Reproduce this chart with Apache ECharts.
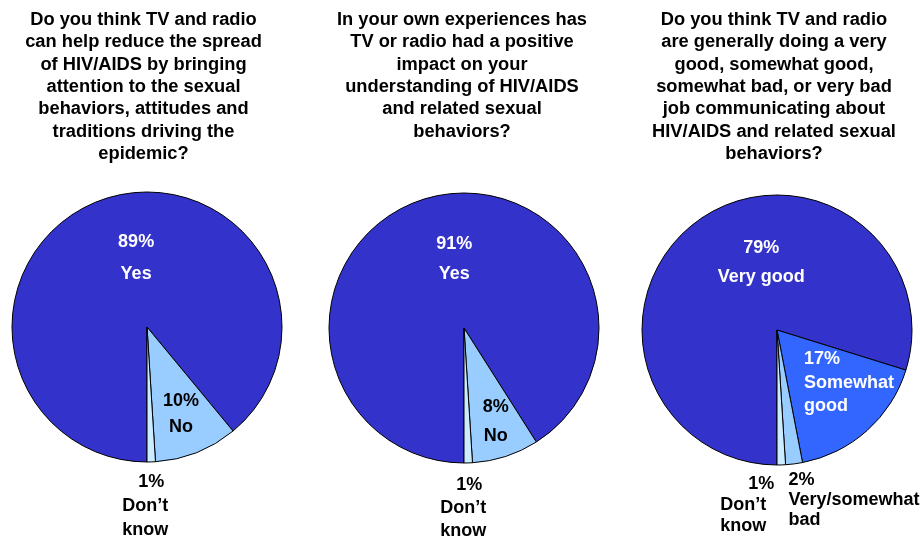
<!DOCTYPE html>
<html>
<head>
<meta charset="utf-8">
<script src="https://cdn.jsdelivr.net/npm/echarts@6/dist/echarts.min.js"></script>
<style>
  html, body { margin: 0; padding: 0; background: #fff; }
  #chart { width: 924px; height: 537px; }
</style>
</head>
<body>
<div id="chart"></div>
<script>
// Survey questions
const questions = [
  'Do you think TV and radio\ncan help reduce the spread\nof HIV/AIDS by bringing\nattention to the sexual\nbehaviors, attitudes and\ntraditions driving the\nepidemic?',
  'In your own experiences has\nTV or radio had a positive\nimpact on your\nunderstanding of HIV/AIDS\nand related sexual\nbehaviors?',
  'Do you think TV and radio\nare generally doing a very\ngood, somewhat good,\nsomewhat bad, or very bad\njob communicating about\nHIV/AIDS and related sexual\nbehaviors?'
];

// Answers (percent of respondents)
const q1Names = ['Yes', 'No', 'Don\u2019t\nknow'];
const q1Values = [89, 10, 1];

const q2Names = ['Yes', 'No', 'Don\u2019t\nknow'];
const q2Values = [91, 8, 1];

const q3Names = ['Very good', 'Somewhat\ngood', 'Very/somewhat\nbad', 'Don\u2019t\nknow'];
const q3Values = [79, 17, 2, 1];

// Slice colours
const q1Colors = ['#3333CC', '#99CCFF', '#CCECFF'];
const q2Colors = ['#3333CC', '#99CCFF', '#CCECFF'];
const q3Colors = ['#3333CC', '#3366FF', '#99CCFF', '#CCECFF'];

// Label styling per slice: text colour, line height, line alignment,
// nudge from the slice's inside anchor, extra right shift of the percent line
const q1Labels = [
  { color: '#fff', lh: 32, align: 'center', dx: 13, dy: -3 },
  { color: '#000', lh: 26, align: 'center', dx: 8, dy: 21 },
  { color: '#000', lh: 24, align: 'center', dx: -4, dy: 109, pctShift: 6 }
];
const q2Labels = [
  { color: '#fff', lh: 30, align: 'center', dx: 10, dy: -1 },
  { color: '#000', lh: 29, align: 'center', dx: 10, dy: 26 },
  { color: '#000', lh: 23, align: 'center', dx: -3, dy: 110, pctShift: 6 }
];
const q3Labels = [
  { color: '#fff', lh: 29, align: 'center', dx: 26, dy: -11 },
  { color: '#fff', lh: 23.5, align: 'left', dx: 25, dy: 0 },
  { color: '#000', lh: 20, align: 'left', dx: 68, dy: 100 },
  { color: '#000', lh: 21, align: 'right', dx: -32, dy: 105, pctShift: 8 }
];

const FONT = '"Liberation Sans", Arial, Helvetica, sans-serif';

function pieSeries(names, values, colors, labels, center) {
  return {
    type: 'pie',
    center: center,
    radius: 135,
    startAngle: 270,
    clockwise: true,
    avoidLabelOverlap: false,
    silent: true,
    animation: false,
    itemStyle: { borderColor: '#000', borderWidth: 1 },
    labelLine: { show: false },
    data: names.map(function (n, i) {
      const ls = labels[i];
      const base = {
        color: ls.color, fontFamily: FONT, fontWeight: 'bold', fontSize: 18,
        lineHeight: ls.lh, align: ls.align
      };
      const shift = ls.pctShift || 0;
      const rightAligned = ls.align === 'right';
      // padding on one side moves the percent line off the name lines
      const rich = {
        t: Object.assign({}, base, {
          padding: rightAligned ? [0, shift, 0, 0] : [0, 0, 0, 0]
        }),
        p: Object.assign({}, base, {
          padding: rightAligned ? [0, 0, 0, 0] : [0, 0, 0, shift * 2]
        })
      };
      return {
        name: n,
        value: values[i],
        itemStyle: { color: colors[i] },
        label: {
          show: true,
          position: 'inside',
          formatter: function (p) {
            const rest = String(p.name).split('\n');
            return ['{p|' + p.value + '%}']
              .concat(rest.map(function (s) { return '{t|' + s + '}'; }))
              .join('\n');
          },
          rich: rich
        }
      };
    }),
    labelLayout: function (params) {
      const ls = labels[params.dataIndex];
      return { dx: ls.dx, dy: ls.dy };
    }
  };
}

function titleAt(text, x) {
  return {
    text: text,
    left: x,
    top: 9,
    padding: 0,
    textAlign: 'center',
    textStyle: {
      fontFamily: FONT, fontWeight: 'bold', fontSize: 18.3,
      lineHeight: 22.3, color: '#000'
    }
  };
}

const chart = echarts.init(document.getElementById('chart'), null, { renderer: 'canvas' });
chart.setOption({
  backgroundColor: '#fff',
  animation: false,
  title: [
    titleAt(questions[0], 143.5),
    titleAt(questions[1], 462),
    titleAt(questions[2], 774)
  ],
  series: [
    pieSeries(q1Names, q1Values, q1Colors, q1Labels, [147, 327]),
    pieSeries(q2Names, q2Values, q2Colors, q2Labels, [464, 328]),
    pieSeries(q3Names, q3Values, q3Colors, q3Labels, [777, 330])
  ]
});
</script>
</body>
</html>
